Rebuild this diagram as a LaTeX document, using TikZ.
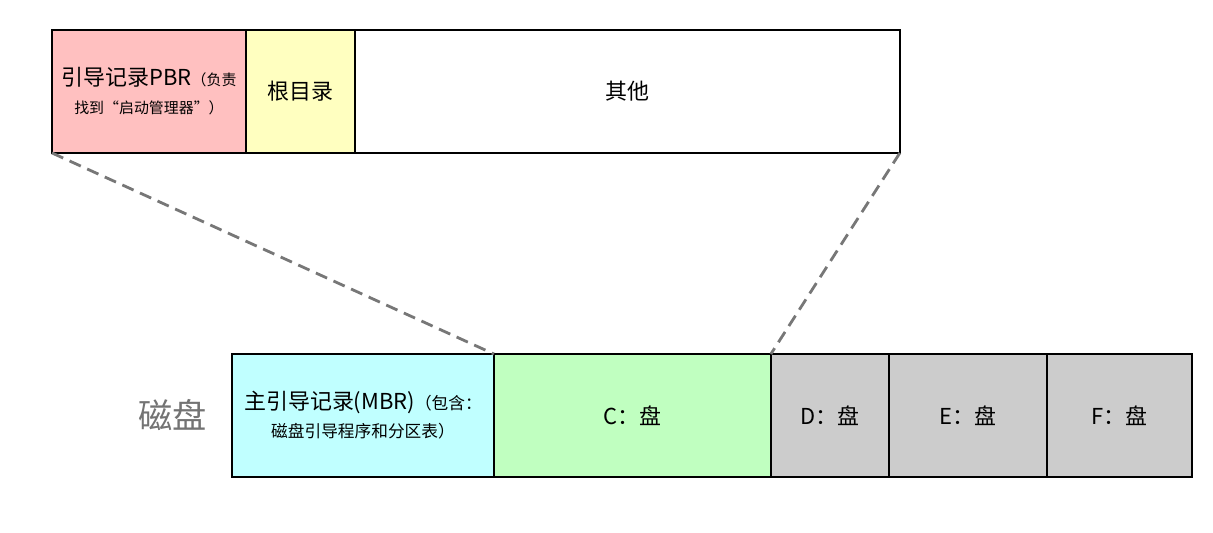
\documentclass[tikz,border=0pt]{standalone}
\usepackage{fontspec}
\setmainfont{Noto Sans CJK SC}
\usetikzlibrary{positioning}

\definecolor{pbrpink}{HTML}{FFC0C0}
\definecolor{rootyellow}{HTML}{FFFFC0}
\definecolor{mbrcyan}{HTML}{C0FFFF}
\definecolor{cgreen}{HTML}{C0FFC0}
\definecolor{diskgray}{HTML}{CCCCCC}
\definecolor{linkgray}{HTML}{777777}

\begin{document}
\begin{tikzpicture}[
    x=0.02cm, y=-0.02cm,
    % Style for every block of the partition strips
    block/.style = {draw=black, line width=1pt, outer sep=0pt, inner sep=0pt,
                    minimum height=2.46cm, align=center, font=\fontsize{12.5}{15}\selectfont},
    % Style for the dashed zoom lines
    zoomline/.style = {draw=linkgray, line width=1.6pt, dash pattern=on 7pt off 4pt}
]
    \useasboundingbox (0,0) rectangle (1213,533);

    % --- PARTITION C (top strip) ---
    \node[block, fill=pbrpink, minimum width=3.88cm, anchor=north west] (pbr) at (52,30)
        {引导记录PBR{\fontsize{8.5}{10}\selectfont（负责}\\[1pt]{\fontsize{8.5}{10}\selectfont 找到“启动管理器”）}};
    \node[block, fill=rootyellow, minimum width=2.18cm, right=0pt of pbr] (rootdir) {根目录};
    \node[block, fill=white, minimum width=10.9cm, right=0pt of rootdir] (other) {其他};

    % --- DISK (bottom strip) ---
    \node[block, fill=mbrcyan, minimum width=5.24cm, anchor=north west] (mbr) at (232,354)
        {主引导记录(MBR){\fontsize{9.5}{11}\selectfont（包含：}\\[1pt]{\fontsize{9.5}{11}\selectfont 磁盘引导程序和分区表）}};
    \node[block, fill=cgreen, minimum width=5.54cm, right=0pt of mbr] (diskc) {C：盘};
    \node[block, fill=diskgray, minimum width=2.36cm, right=0pt of diskc] (diskd) {D：盘};
    \node[block, fill=diskgray, minimum width=3.16cm, right=0pt of diskd] (diske) {E：盘};
    \node[block, fill=diskgray, minimum width=2.9cm, right=0pt of diske] (diskf) {F：盘};

    \node[left=0.5cm of mbr, inner sep=0pt, text=black!55, font=\fontsize{19.5}{22}\selectfont] (disklabel) {磁盘};

    % --- ZOOM LINES ---
    \draw[zoomline] (pbr.south west) -- (mbr.north east);
    \draw[zoomline] (other.south east) -- (diskc.north east);

\end{tikzpicture}
\end{document}
